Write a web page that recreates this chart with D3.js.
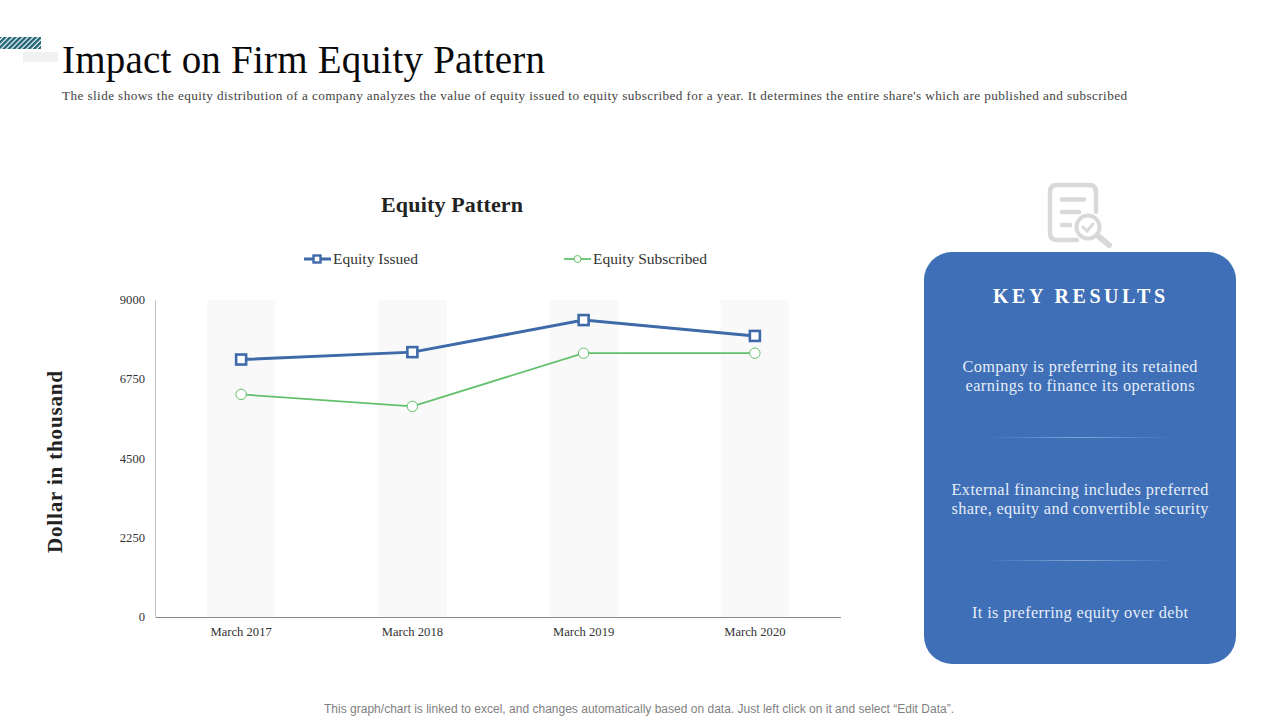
<!DOCTYPE html>
<html>
<head>
<meta charset="utf-8">
<script src="https://cdn.jsdelivr.net/npm/d3@7"></script>
<style>
  html, body { margin: 0; padding: 0; background: #fff; }
  svg { display: block; }
  text { font-family: "Liberation Serif", serif; }
</style>
</head>
<body>
<div id="okvir"></div>
<script>
const categories = ["March 2017", "March 2018", "March 2019", "March 2020"]
const equityIssued = [7310, 7520, 8430, 7980]
const equitySubscribed = [6320, 5980, 7490, 7490]
const yTicks = [0, 2250, 4500, 6750, 9000]
const resultTexts = [
  ["Company is preferring its retained", "earnings to finance its operations"],
  ["External financing includes preferred", "share, equity and convertible security"],
  ["It is preferring equity over debt"]
]

const plavaBoja = "#3f6fb6"
const plavaLinija = "#3e6aa9"
const zelenaBoja = "#62c06b"

const okvir = d3.select("#okvir").append("svg")
  .attr("width", 1280)
  .attr("height", 720)

const defs = okvir.append("defs")

const srafura = defs.append("pattern")
  .attr("id", "srafura")
  .attr("width", 3.6)
  .attr("height", 3.6)
  .attr("patternUnits", "userSpaceOnUse")
  .attr("patternTransform", "rotate(45)")
srafura.append("rect").attr("width", 3.6).attr("height", 3.6).attr("fill", "#ffffff")
srafura.append("rect").attr("width", 2.4).attr("height", 3.6).attr("fill", "#1f6377")

const crta = defs.append("linearGradient").attr("id", "crta")
crta.append("stop").attr("offset", "0%").attr("stop-color", "#8fb0e0").attr("stop-opacity", 0)
crta.append("stop").attr("offset", "50%").attr("stop-color", "#8fb0e0").attr("stop-opacity", 0.85)
crta.append("stop").attr("offset", "100%").attr("stop-color", "#8fb0e0").attr("stop-opacity", 0)

// zaglavlje
okvir.append("rect").attr("x", 23).attr("y", 52).attr("width", 35).attr("height", 10).attr("fill", "#f1f1f1")
okvir.append("rect").attr("x", 0).attr("y", 37).attr("width", 41).attr("height", 12).attr("fill", "url(#srafura)")

okvir.append("text")
  .attr("x", 62).attr("y", 73)
  .attr("font-size", 39)
  .attr("fill", "#0a0a0a")
  .attr("textLength", 483)
  .text("Impact on Firm Equity Pattern")

okvir.append("text")
  .attr("x", 62).attr("y", 100)
  .attr("font-size", 13.2)
  .attr("fill", "#444444")
  .attr("textLength", 1065)
  .text("The slide shows the equity distribution of a company analyzes the value of equity issued to equity subscribed for a year. It determines the entire share's which are published and subscribed")

// grafikon
const x = d3.scaleBand()
  .domain(categories)
  .range([155.5, 840.5])

const y = d3.scaleLinear()
  .domain([0, 9000])
  .range([617, 300])

const granice = okvir.append("g")

granice.selectAll(".traka")
  .data(categories)
  .enter().append("rect")
  .attr("class", "traka")
  .attr("x", d => x(d) + x.bandwidth() * 0.3)
  .attr("y", y(9000))
  .attr("width", x.bandwidth() * 0.4)
  .attr("height", y(0) - y(9000))
  .attr("fill", "#f9f9f9")

const xAxis = d3.axisBottom(x).tickSize(0).tickPadding(10)
const xOsa = granice.append("g")
  .attr("transform", `translate(0,${y(0)})`)
  .call(xAxis)
xOsa.select(".domain").attr("stroke", "#8a8a8a")
xOsa.selectAll("text")
  .attr("font-family", "Liberation Serif")
  .attr("font-size", 12.6)
  .attr("fill", "#333333")

const yAxis = d3.axisLeft(y).tickValues(yTicks).tickSize(0).tickPadding(10).tickFormat(d3.format("d"))
const yOsa = granice.append("g")
  .attr("transform", "translate(155,0)")
  .call(yAxis)
yOsa.select(".domain").attr("stroke", "#c4c4c4")
yOsa.selectAll("text")
  .attr("font-family", "Liberation Serif")
  .attr("font-size", 12.6)
  .attr("fill", "#333333")
  .attr("dy", "0.28em")

const linija = d3.line()
  .x((d, i) => x(categories[i]) + x.bandwidth() / 2)
  .y(d => y(d))

granice.append("path")
  .attr("d", linija(equitySubscribed))
  .attr("fill", "none")
  .attr("stroke", zelenaBoja)
  .attr("stroke-width", 1.8)

granice.append("path")
  .attr("d", linija(equityIssued))
  .attr("fill", "none")
  .attr("stroke", plavaLinija)
  .attr("stroke-width", 3)

granice.selectAll(".kruzic")
  .data(equitySubscribed)
  .enter().append("circle")
  .attr("class", "kruzic")
  .attr("cx", (d, i) => x(categories[i]) + x.bandwidth() / 2)
  .attr("cy", d => y(d))
  .attr("r", 5.2)
  .attr("fill", "#ffffff")
  .attr("stroke", zelenaBoja)
  .attr("stroke-width", 1)

granice.selectAll(".kvadrat")
  .data(equityIssued)
  .enter().append("rect")
  .attr("class", "kvadrat")
  .attr("x", (d, i) => x(categories[i]) + x.bandwidth() / 2 - 5)
  .attr("y", d => y(d) - 5)
  .attr("width", 10)
  .attr("height", 10)
  .attr("fill", "#ffffff")
  .attr("stroke", plavaLinija)
  .attr("stroke-width", 2.6)

okvir.append("text")
  .attr("x", 452).attr("y", 212)
  .attr("text-anchor", "middle")
  .attr("font-size", 22)
  .attr("font-weight", "bold")
  .attr("fill", "#222222")
  .attr("textLength", 142)
  .text("Equity Pattern")

okvir.append("text")
  .attr("transform", "translate(62,462) rotate(-90)")
  .attr("text-anchor", "middle")
  .attr("font-size", 21)
  .attr("font-weight", "bold")
  .attr("fill", "#222222")
  .attr("textLength", 182)
  .text("Dollar in thousand")

// legenda
const legenda = okvir.append("g")
legenda.append("line")
  .attr("x1", 304).attr("x2", 331).attr("y1", 259).attr("y2", 259)
  .attr("stroke", plavaLinija).attr("stroke-width", 3)
legenda.append("rect")
  .attr("x", 313.5).attr("y", 255.5).attr("width", 7).attr("height", 7)
  .attr("fill", "#ffffff").attr("stroke", plavaLinija).attr("stroke-width", 2.4)
legenda.append("text")
  .attr("x", 333).attr("y", 264)
  .attr("font-size", 15.5).attr("fill", "#333333").attr("textLength", 85)
  .text("Equity Issued")
legenda.append("line")
  .attr("x1", 564).attr("x2", 591).attr("y1", 259).attr("y2", 259)
  .attr("stroke", zelenaBoja).attr("stroke-width", 1.8)
legenda.append("circle")
  .attr("cx", 577.5).attr("cy", 259).attr("r", 3.5)
  .attr("fill", "#ffffff").attr("stroke", zelenaBoja).attr("stroke-width", 1)
legenda.append("text")
  .attr("x", 593).attr("y", 264)
  .attr("font-size", 15.5).attr("fill", "#333333").attr("textLength", 114)
  .text("Equity Subscribed")

// ikona
const ikona = okvir.append("g")
  .attr("fill", "none")
  .attr("stroke", "#d9d9d9")
  .attr("stroke-linecap", "round")
ikona.append("path")
  .attr("d", "M1096 212 V192 Q1096 185 1089 185 H1057 Q1050 185 1050 192 V233 Q1050 240 1057 240 H1077")
  .attr("stroke-width", 4.5)
ikona.append("path").attr("d", "M1062 199.5 H1084").attr("stroke-width", 4.5)
ikona.append("path").attr("d", "M1062 212 H1079").attr("stroke-width", 4.5)
ikona.append("path").attr("d", "M1062 225 H1070").attr("stroke-width", 4.5)
ikona.append("circle").attr("cx", 1088).attr("cy", 227).attr("r", 11.5).attr("fill", "#ffffff").attr("stroke-width", 4)
ikona.append("path").attr("d", "M1083 227 L1087 231 L1093 224").attr("stroke-width", 3)
ikona.append("path").attr("d", "M1098 236 L1109 245").attr("stroke-width", 6)

// panel
okvir.append("rect")
  .attr("x", 924).attr("y", 252)
  .attr("width", 312).attr("height", 412)
  .attr("rx", 28)
  .attr("fill", plavaBoja)

okvir.append("text")
  .attr("x", 1079).attr("y", 303)
  .attr("text-anchor", "middle")
  .attr("font-size", 20)
  .attr("font-weight", "bold")
  .attr("fill", "#ffffff")
  .attr("textLength", 172)
  .text("KEY RESULTS")

const blokY = [372, 495, 618]
const sirine = [[235, 229], [257, 257], [216]]
resultTexts.forEach((redovi, i) => {
  redovi.forEach((red, j) => {
    okvir.append("text")
      .attr("x", 1080)
      .attr("y", blokY[i] + j * 19)
      .attr("text-anchor", "middle")
      .attr("font-size", 16.3)
      .attr("fill", "#e6eef9")
      .attr("textLength", sirine[i][j])
      .text(red)
  })
})

okvir.selectAll(".razdjelnik")
  .data([437, 560])
  .enter().append("rect")
  .attr("class", "razdjelnik")
  .attr("x", 985).attr("y", d => d)
  .attr("width", 190).attr("height", 1)
  .attr("fill", "url(#crta)")

okvir.append("text")
  .attr("x", 639).attr("y", 713)
  .attr("text-anchor", "middle")
  .attr("font-size", 12)
  .attr("fill", "#7f7f7f")
  .attr("textLength", 630)
  .style("font-family", "Liberation Sans")
  .text("This graph/chart is linked to excel, and changes automatically based on data. Just left click on it and select \u201cEdit Data\u201d.")
</script>
</body>
</html>
